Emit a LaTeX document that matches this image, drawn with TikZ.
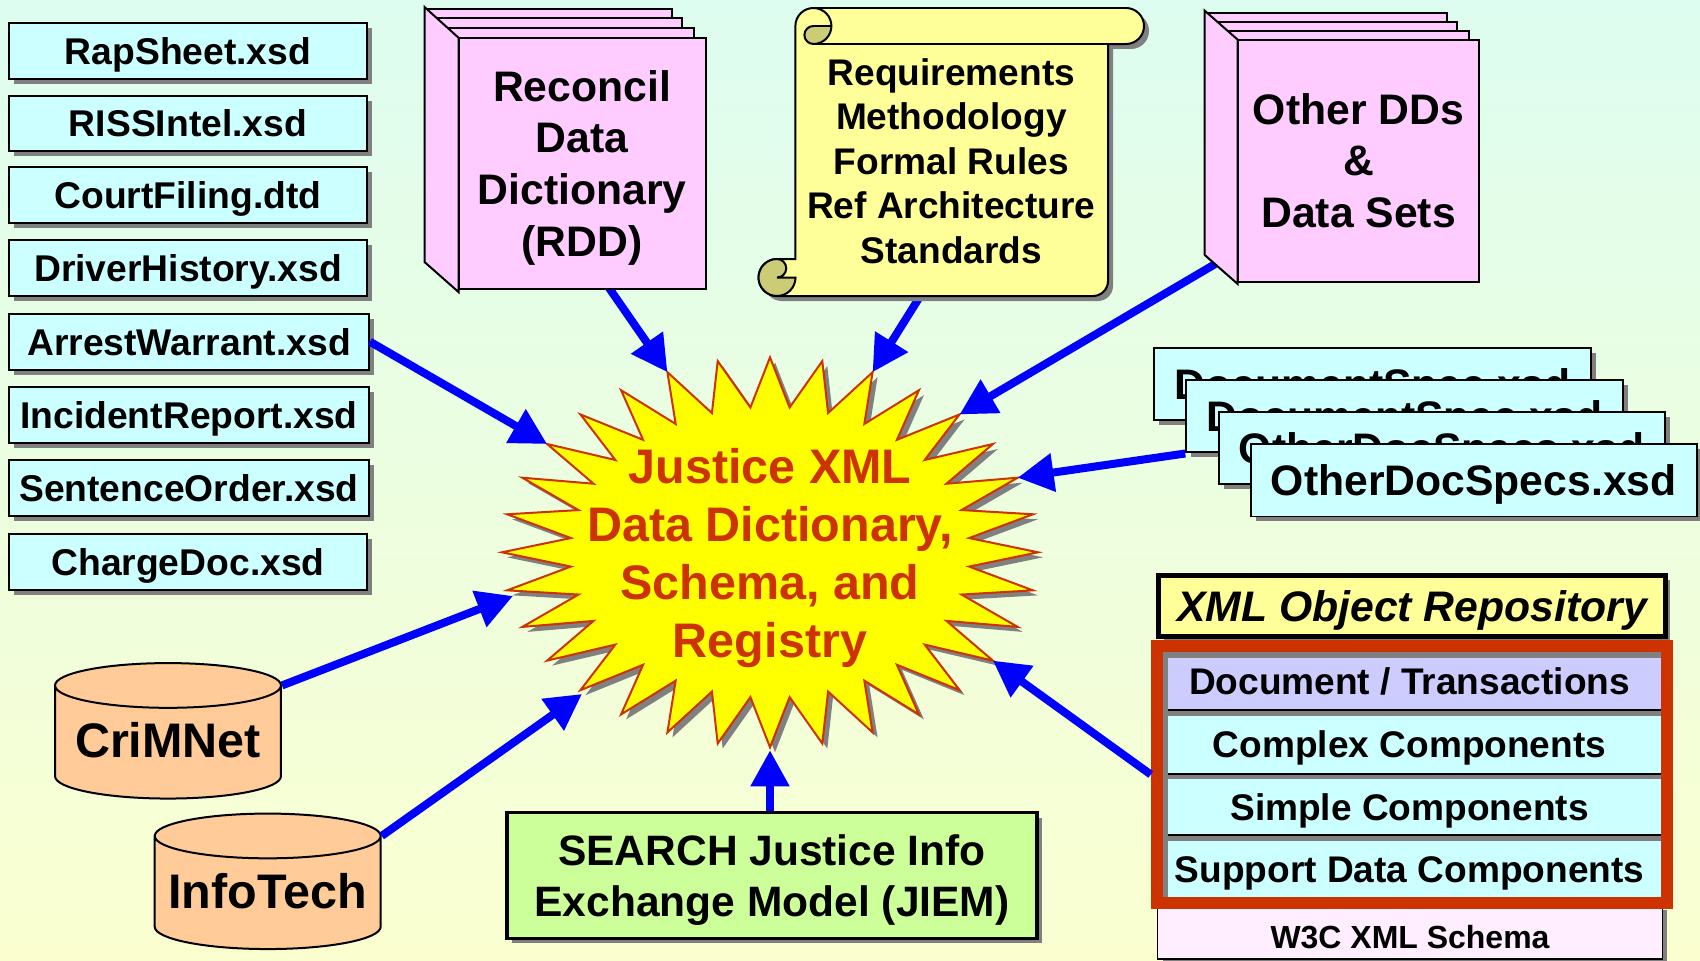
\documentclass[tikz,border=0pt]{standalone}
\usepackage{fontspec}
\setmainfont{Liberation Sans}
\usepackage{tikz}
\usetikzlibrary{arrows.meta, shapes.geometric, shadows}

\definecolor{bgtop}{HTML}{DDFDF0}
\definecolor{bgbottom}{HTML}{FBFFD0}
\definecolor{xsdcyan}{HTML}{CCFFFF}
\definecolor{bookpink}{HTML}{FFCCFF}
\definecolor{scrollyellow}{HTML}{FFFF99}
\definecolor{curlolive}{HTML}{CCCC77}
\definecolor{burstred}{HTML}{CC3300}
\definecolor{burstyellow}{HTML}{FFFF00}
\definecolor{dbpeach}{HTML}{FFCC99}
\definecolor{jiemgreen}{HTML}{CCFF99}
\definecolor{tranlilac}{HTML}{CCCCFF}
\definecolor{schemapink}{HTML}{FFEEFF}
\definecolor{shadowgray}{HTML}{808080}
\definecolor{arrowblue}{HTML}{0000FF}

\newcommand{\boldpt}[2]{\bfseries\fontsize{#1pt}{#2pt}\selectfont}

\tikzset{
    grayshadow/.style={drop shadow={shadow xshift=0.1cm, shadow yshift=-0.1cm, fill=shadowgray, opacity=1}},
    xsdbox/.style={rectangle, draw, line width=0.04cm, fill=xsdcyan, grayshadow, inner sep=0pt, minimum width=7.16cm, minimum height=1.12cm, font=\boldpt{21.2}{25}, text height=15.2pt, text depth=0pt},
    specbox/.style={xsdbox, minimum width=8.74cm, minimum height=1.46cm, font=\boldpt{24.3}{29}, text height=17.4pt},
    flowarrow/.style={draw=arrowblue, line width=0.16cm, -{Triangle[length=0.72cm, width=0.74cm, fill=arrowblue]}},
    bookpage/.style={draw, line width=0.04cm, fill=bookpink},
    bookfront/.style={bookpage, rectangle, inner sep=0pt, align=center, font=\boldpt{24.3}{29.5}},
    scrollshape/.style={draw, line width=0.04cm, fill=scrollyellow},
    curlshape/.style={draw, line width=0.04cm, fill=curlolive},
    dbcan/.style={cylinder, shape border rotate=90, aspect=0.25, draw, line width=0.04cm, fill=dbpeach, inner sep=0pt, minimum width=4.52cm, minimum height=2.71cm, text width=3.58cm},
    dbtext/.style={inner sep=0pt, font=\boldpt{27.6}{30}},
    rowbox/.style={rectangle, inner sep=0pt, minimum width=9.86cm, fill=xsdcyan, font=\boldpt{21.1}{25}, text height=15.1pt, text depth=0pt, execute at end node={\hspace{0.2cm}}},
    rowrule/.style={line width=0.04cm},
}

\begin{document}
\begin{tikzpicture}[x=0.02cm, y=-0.02cm]
    \useasboundingbox (0,0) rectangle (1700,960);
    \shade[top color=bgtop, bottom color=bgbottom] (0,0) rectangle (1700,960);

    \coordinate (rddfoot) at (607,285);
    \coordinate (scrollfoot) at (919,298);
    \coordinate (otherfoot) at (1222,260);
    \coordinate (crimnettip) at (513,596);
    \coordinate (infotechtip) at (582,694);

    \node[star, star points=32, star point ratio=1.34, minimum size=7.8cm, inner sep=0pt, outer sep=0pt, xscale=1.375, transform shape, draw=burstred, line width=0.04cm, fill=burstyellow, grayshadow] (burst) at (770,552.3) {};
    \node[align=center, text=burstred, font=\boldpt{27.6}{33}] (burstlabel) at (770,558) {Justice XML\\Data Dictionary,\\Schema, and\\Registry};

    \node[xsdbox] (rapsheet) at (188,51.3) {RapSheet.xsd};
    \node[xsdbox] (rissintel) at (188,123.5) {RISSIntel.xsd};
    \node[xsdbox] (courtfiling) at (188,195) {CourtFiling.dtd};
    \node[xsdbox] (driverhistory) at (188,268) {DriverHistory.xsd};
    \node[xsdbox, minimum width=7.2cm] (arrestwarrant) at (189,341.7) {ArrestWarrant.xsd};
    \node[xsdbox, minimum width=7.2cm] (incidentreport) at (189,415) {IncidentReport.xsd};
    \node[xsdbox, minimum width=7.2cm] (sentenceorder) at (189,488.3) {SentenceOrder.xsd};
    \node[xsdbox] (chargedoc) at (188,561.7) {ChargeDoc.xsd};

    \node[specbox] (docspecone) at (1372.7,384) {DocumentSpec.xsd};
    \node[specbox] (docspectwo) at (1404.7,416) {DocumentSpec.xsd};
    \node[specbox, minimum width=8.93cm] (otherspecone) at (1441.7,448) {OtherDocSpecs.xsd};
    \node[specbox, minimum width=8.93cm] (otherspectwo) at (1473.7,480) {OtherDocSpecs.xsd};

    \node[dbcan] (crimnet) at (168,742.5) {};
    \node[dbtext] (crimnetlabel) at (168,740) {CriMNet};
    \node[dbcan] (infotech) at (267.7,893) {};
    \node[dbtext] (infotechlabel) at (267.7,890.7) {InfoTech};

    \node[rectangle, draw, line width=0.07cm, fill=jiemgreen, grayshadow, align=center, inner sep=0pt, minimum width=10.6cm, minimum height=2.52cm, font=\boldpt{24.2}{29}, text depth=0pt] (jiem) at (772,875.5) {SEARCH Justice Info\\Exchange Model (JIEM)};

    \draw[flowarrow] (arrestwarrant.east) -- (burst.outer point 6);
    \draw[flowarrow] (rddfoot) -- (burst.outer point 3);
    \draw[flowarrow] (scrollfoot) -- (burst.outer point 31);
    \draw[flowarrow] (otherfoot) -- (burst.outer point 29);
    \draw[flowarrow] (docspectwo.south west) -- (burst.outer point 27);
    \draw[flowarrow] (crimnet.after top) -- (crimnettip);
    \draw[flowarrow] (infotech.after top) -- (infotechtip);
    \draw[flowarrow, shorten >=0.06cm] (jiem.north -| burst.outer point 17) -- (burst.outer point 17);

    \foreach \pagey/\pagex in {9.3/671.8, 18.3/682.4, 28/694}
        \draw[bookpage] (424.5,\pagey) rectangle (\pagex,40);
    \draw[bookpage] (424.5,7) -- (458.5,37.7) -- (458.5,292) -- (424.5,262) -- cycle;
    \node[bookfront, minimum width=4.94cm, minimum height=5.03cm, text depth=0pt] (rdd) at (582.1,163.4) {Reconcil\\Data\\Dictionary\\(RDD)};

    \foreach \pagey/\pagex in {13.3/1446.7, 22/1457.3, 30.7/1468.7}
        \draw[bookpage] (1204.7,\pagey) rectangle (\pagex,42);
    \draw[bookpage] (1204.7,10.7) -- (1237.7,39.7) -- (1237.7,284) -- (1204.7,255) -- cycle;
    \node[bookfront, minimum width=4.83cm, minimum height=4.84cm] (otherdds) at (1358.5,160.7) {Other DDs\\\&\\Data Sets};

    \draw[scrollshape, grayshadow] (795.4,26) arc[start angle=180, end angle=270, radius=18] -- (1126,8) arc[start angle=270, end angle=450, radius=18] -- (1108,44) -- (1108,281) arc[start angle=0, end angle=90, radius=15] -- (777,296) arc[start angle=90, end angle=270, radius=18.5] -- (795.4,259) -- cycle;
    \draw[line width=0.04cm] (813.4,44) -- (1126,44);
    \draw[curlshape] (831.4,26) -- (813.4,26) arc[start angle=270, end angle=90, radius=9] arc[start angle=90, end angle=0, radius=18];
    \draw[scrollshape, fill=none] (813.4,8) arc[start angle=270, end angle=360, radius=18];
    \draw[curlshape] (777,296) arc[start angle=90, end angle=0, radius=18.5] -- (777,277.5) arc[start angle=90, end angle=-90, radius=9.25] arc[start angle=270, end angle=90, radius=18.5];
    \node[align=center, font=\boldpt{21.1}{25.3}] (scrolltext) at (951.4,161) {Requirements\\Methodology\\Formal Rules\\Ref Architecture\\Standards};

    \node[rectangle, draw, line width=0.03cm, fill=schemapink, grayshadow, inner sep=0pt, minimum width=10.1cm, minimum height=1.08cm, font=\boldpt{18.2}{22}, text height=18.4pt, text depth=0pt] (schema) at (1410,932) {W3C XML Schema};

    \node[rectangle, draw, line width=0.1cm, fill=scrollyellow, grayshadow, inner sep=0pt, minimum width=10.14cm, minimum height=1.23cm, font=\bfseries\itshape\fontsize{24.3}{29}\selectfont, text height=17.4pt, text depth=0pt] (repotitle) at (1412,606) {XML Object Repository};

    \node[rectangle, draw=burstred, line width=0.24cm, fill=shadowgray, grayshadow, inner sep=0pt, minimum width=10.206cm, minimum height=5.14cm] (repoframe) at (1411.85,774.5) {};
    \node[rowbox, fill=tranlilac, minimum height=1.046cm, text depth=2.5pt] (transactions) at (1414.5,683.85) {Document / Transactions};
    \node[rowbox, minimum height=1.152cm] (complex) at (1414.5,744.5) {Complex Components};
    \node[rowbox, minimum height=1.126cm] (simple) at (1414.5,806.85) {Simple Components};
    \node[rowbox, minimum height=1.132cm] (support) at (1414.5,869) {Support Data Components};
    \draw[rowrule] (transactions.south west) -- (transactions.south east);
    \draw[rowrule] (complex.south west) -- (complex.south east);
    \draw[rowrule] (simple.south west) -- (simple.south east);

    \draw[flowarrow] (repoframe.west) -- (burst.outer point 22);
\end{tikzpicture}
\end{document}
